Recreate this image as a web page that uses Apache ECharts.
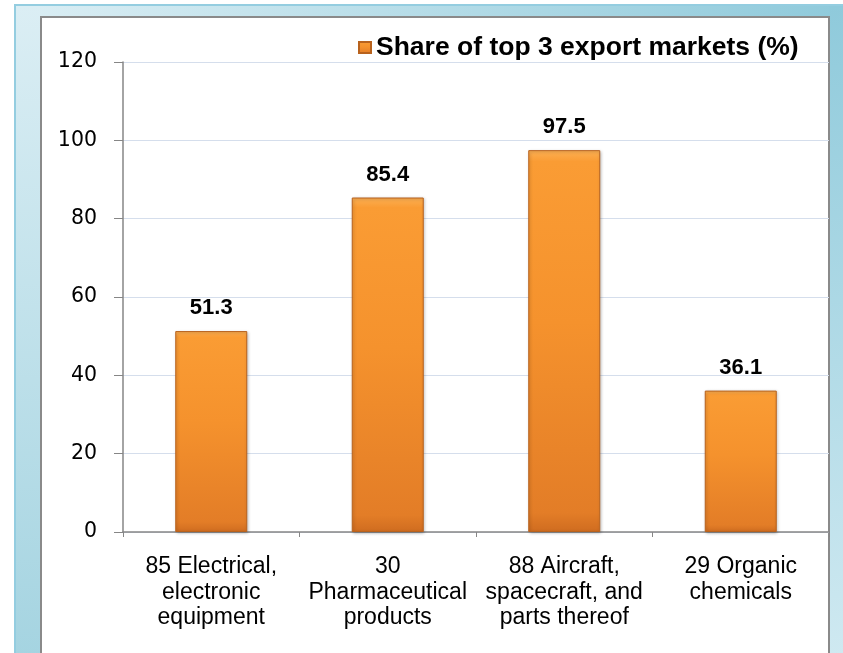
<!DOCTYPE html>
<html>
<head>
<meta charset="utf-8">
<script src="https://cdn.jsdelivr.net/npm/echarts@6/dist/echarts.min.js"></script>
<style>
html,body{margin:0;padding:0;background:#fff;}
#chart{width:843px;height:653px;}
</style>
</head>
<body>
<div id="chart"></div>
<script>
var categories = [
  "85 Electrical,\nelectronic\nequipment",
  "30\nPharmaceutical\nproducts",
  "88 Aircraft,\nspacecraft, and\nparts thereof",
  "29 Organic\nchemicals"
];
var seriesName = "Share of top 3 export markets (%)";
var shareValues = [51.3, 85.4, 97.5, 36.1];
var yTicks = { min: 0, max: 120, interval: 20 };

var chart = echarts.init(document.getElementById('chart'), null, { renderer: 'canvas' });

function lin(x1, y1, x2, y2, c1, c2) {
  return new echarts.graphic.LinearGradient(x1, y1, x2, y2, [
    { offset: 0, color: c1 }, { offset: 1, color: c2 }
  ]);
}

var barColor = new echarts.graphic.LinearGradient(0, 0, 0, 1, [
  { offset: 0, color: '#fcb054' },
  { offset: 0.03, color: '#fa9c34' },
  { offset: 0.45, color: '#f5922d' },
  { offset: 0.95, color: '#e37d27' },
  { offset: 1, color: '#cf6c20' }
]);

var option = {
  animation: false,
  backgroundColor: '#ffffff',
  graphic: [
    { type: 'rect', z: -10, shape: { x: 15, y: 5, width: 840, height: 660 },
      style: { fill: '#c2e2ec', stroke: '#94cde0', lineWidth: 2 } },
    { type: 'rect', z: -9, shape: { x: 16, y: 6, width: 828, height: 11 },
      style: { fill: lin(0, 0, 1, 0, '#dbeef4', '#8fcadb') } },
    { type: 'rect', z: -9, shape: { x: 16, y: 6, width: 24, height: 650 },
      style: { fill: lin(0, 0, 0, 1, '#dbeef4', '#a5d4e1') } },
    { type: 'rect', z: -9, shape: { x: 829, y: 6, width: 15, height: 650 },
      style: { fill: lin(0, 0, 0, 1, '#8fcadb', '#cfe9f1') } },
    { type: 'rect', z: -8, shape: { x: 41, y: 17, width: 788, height: 650 },
      style: { fill: '#ffffff', stroke: '#8a8a8a', lineWidth: 2 } }
  ],
  legend: {
    data: [{ name: seriesName, icon: 'rect' }],
    left: 358,
    top: 34,
    padding: 0,
    itemWidth: 12,
    itemHeight: 11,
    itemGap: 6,
    textStyle: { fontFamily: 'Liberation Sans, Arial, sans-serif', fontSize: 26.5, fontWeight: 'bold', color: '#000' }
  },
  grid: { left: 123, right: 14, top: 62, bottom: 121, containLabel: false },
  xAxis: {
    type: 'category',
    data: categories,
    boundaryGap: true,
    axisLine: { lineStyle: { color: '#868686', width: 1.5 } },
    axisTick: { show: true, length: 5, lineStyle: { color: '#868686' } },
    axisLabel: {
      interval: 0,
      margin: 22,
      color: '#000',
      fontFamily: 'Liberation Sans, Arial, sans-serif',
      fontSize: 23,
      lineHeight: 25.5
    }
  },
  yAxis: {
    type: 'value',
    min: yTicks.min,
    max: yTicks.max,
    interval: yTicks.interval,
    axisLine: { show: true, lineStyle: { color: '#868686', width: 1.5 } },
    axisTick: { show: true, length: 9, lineStyle: { color: '#868686' } },
    axisLabel: {
      margin: 26,
      color: '#000',
      fontFamily: 'DejaVu Sans, sans-serif',
      fontSize: 20.5
    },
    splitLine: { show: true, lineStyle: { color: '#d5deec', width: 1 } }
  },
  series: [{
    name: seriesName,
    type: 'bar',
    data: shareValues,
    barWidth: 72,
    itemStyle: {
      color: barColor,
      borderColor: '#b8621d',
      borderWidth: 1,
      shadowColor: 'rgba(0,0,0,0.25)',
      shadowBlur: 3,
      shadowOffsetX: 1,
      shadowOffsetY: 1
    },
    label: {
      show: true,
      position: 'top',
      distance: 12,
      color: '#000',
      fontFamily: 'Liberation Sans, Arial, sans-serif',
      fontSize: 22,
      fontWeight: 'bold'
    }
  }]
};
chart.setOption(option);
</script>
</body>
</html>
